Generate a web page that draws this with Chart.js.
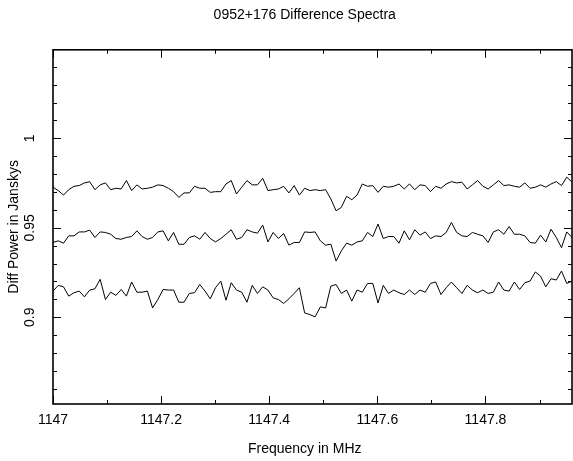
<!DOCTYPE html>
<html>
<head>
<meta charset="utf-8">
<script src="https://cdn.jsdelivr.net/npm/chart.js@4.4.1/dist/chart.umd.min.js"></script>
<style>
  html, body { margin: 0; padding: 0; background: #fff; }
  #wrap { width: 573px; height: 461px; }
</style>
</head>
<body>
<div id="wrap"><canvas id="specChart" width="573" height="461"></canvas></div>
<script>
// frequency axis (MHz)
const FREQ_START = 1147.0;
const FREQ_END = 1147.96;

// three difference spectra (Jy)
const upperSpec = [
    0.9727, 0.9708, 0.9683, 0.9713, 0.9732, 0.9736, 0.9751, 0.9758, 0.9713, 0.9740, 0.9751, 0.9713, 0.9721, 0.9717, 0.9764, 0.9708, 0.9740,
    0.9717, 0.9721, 0.9727, 0.9740, 0.9736, 0.9721, 0.9702, 0.9670, 0.9695, 0.9695, 0.9732, 0.9721, 0.9721, 0.9698, 0.9702, 0.9702,
    0.9745, 0.9764, 0.9689, 0.9727, 0.9764, 0.9740, 0.9740, 0.9777, 0.9708, 0.9713, 0.9717, 0.9732, 0.9695, 0.9736, 0.9683, 0.9721, 0.9708,
    0.9713, 0.9708, 0.9713, 0.9661, 0.9595, 0.9614, 0.9676, 0.9657, 0.9683, 0.9745, 0.9732, 0.9736, 0.9698, 0.9732, 0.9727, 0.9732,
    0.9745, 0.9717, 0.9745, 0.9713, 0.9740, 0.9736, 0.9702, 0.9732, 0.9721, 0.9745, 0.9758, 0.9751, 0.9755, 0.9717, 0.9740, 0.9764,
    0.9732, 0.9717, 0.9740, 0.9764, 0.9736, 0.9740, 0.9732, 0.9727, 0.9751, 0.9721, 0.9727, 0.9740, 0.9727, 0.9745, 0.9758, 0.9736, 0.9783, 0.9755
];
const middleSpec = [
    0.9418, 0.9427, 0.9414, 0.9455, 0.9455, 0.9477, 0.9477, 0.9487, 0.9446, 0.9477, 0.9474, 0.9464, 0.9440, 0.9436, 0.9446, 0.9451, 0.9483,
    0.9451, 0.9436, 0.9446, 0.9477, 0.9483, 0.9427, 0.9474, 0.9408, 0.9408, 0.9446, 0.9455, 0.9436, 0.9474, 0.9440, 0.9421, 0.9440,
    0.9464, 0.9489, 0.9436, 0.9446, 0.9489, 0.9477, 0.9470, 0.9515, 0.9421, 0.9474, 0.9440, 0.9468, 0.9403, 0.9418, 0.9418, 0.9477, 0.9474,
    0.9477, 0.9427, 0.9403, 0.9408, 0.9314, 0.9371, 0.9414, 0.9403, 0.9421, 0.9427, 0.9474, 0.9451, 0.9521, 0.9440, 0.9451, 0.9451,
    0.9414, 0.9483, 0.9433, 0.9489, 0.9459, 0.9477, 0.9440, 0.9455, 0.9451, 0.9474, 0.9530, 0.9474, 0.9455, 0.9451, 0.9474, 0.9464,
    0.9455, 0.9418, 0.9477, 0.9489, 0.9464, 0.9507, 0.9464, 0.9464, 0.9455, 0.9418, 0.9414, 0.9459, 0.9421, 0.9492, 0.9446, 0.9389, 0.9477, 0.9446
];
const lowerSpec = [
    0.9146, 0.9178, 0.9170, 0.9118, 0.9137, 0.9146, 0.9114, 0.9152, 0.9159, 0.9212, 0.9099, 0.9140, 0.9122, 0.9155, 0.9118, 0.9197, 0.9140,
    0.9140, 0.9146, 0.9052, 0.9099, 0.9155, 0.9152, 0.9152, 0.9084, 0.9084, 0.9133, 0.9137, 0.9183, 0.9146, 0.9103, 0.9165, 0.9202,
    0.9095, 0.9193, 0.9152, 0.9140, 0.9084, 0.9178, 0.9133, 0.9170, 0.9152, 0.9108, 0.9099, 0.9077, 0.9103, 0.9133, 0.9165, 0.9024, 0.9015,
    0.9002, 0.9058, 0.9052, 0.9174, 0.9183, 0.9133, 0.9152, 0.9090, 0.9152, 0.9140, 0.9189, 0.9189, 0.9080, 0.9178, 0.9133, 0.9152,
    0.9137, 0.9127, 0.9152, 0.9127, 0.9152, 0.9140, 0.9189, 0.9197, 0.9127, 0.9165, 0.9197, 0.9165, 0.9133, 0.9178, 0.9152, 0.9137,
    0.9152, 0.9133, 0.9140, 0.9197, 0.9152, 0.9146, 0.9197, 0.9155, 0.9193, 0.9202, 0.9253, 0.9230, 0.9170, 0.9215, 0.9208, 0.9258, 0.9189, 0.9202
];

// evenly spaced channels across the band
const freqStep = (FREQ_END - FREQ_START) / (upperSpec.length - 1);
const freqs = upperSpec.map((_, i) => FREQ_START + i * freqStep);
const toPoints = arr => arr.map((v, i) => ({ x: freqs[i], y: v }));

const FONT = "'Liberation Sans', Arial, sans-serif";

// PGPLOT style box: frame with inward ticks on all four sides
const boxTicks = {
    id: 'boxTicks',
    afterDatasetsDraw(chart) {
        const { ctx, chartArea: a, scales: { x, y } } = chart;
        ctx.save();
        ctx.strokeStyle = '#000';
        ctx.lineWidth = 1;
        ctx.beginPath();
        for (let k = 0; k <= 10; k++) {
            const v = 1147 + k * 0.1;
            if (v > x.max + 1e-9) break;
            const px = Math.round(x.getPixelForValue(v)) + 0.5;
            const len = k % 2 === 0 ? 8 : 4;
            ctx.moveTo(px, a.bottom); ctx.lineTo(px, a.bottom - len);
            ctx.moveTo(px, a.top); ctx.lineTo(px, a.top + len);
        }
        for (let k = 85; k <= 105; k++) {
            const v = k / 100;
            if (v < y.min || v > y.max) continue;
            const py = Math.round(y.getPixelForValue(v)) + 0.5;
            const len = k % 5 === 0 ? 8 : 4;
            ctx.moveTo(a.left, py); ctx.lineTo(a.left + len, py);
            ctx.moveTo(a.right, py); ctx.lineTo(a.right - len, py);
        }
        ctx.stroke();
        ctx.lineWidth = 1.6;
        ctx.strokeRect(a.left, a.top, a.right - a.left, a.bottom - a.top);
        ctx.restore();
    }
};

const lineStyle = { borderColor: '#000', borderWidth: 1, pointRadius: 0, tension: 0, fill: false };

new Chart(document.getElementById('specChart').getContext('2d'), {
    type: 'line',
    data: {
        datasets: [
            { label: 'upper', data: toPoints(upperSpec), ...lineStyle },
            { label: 'middle', data: toPoints(middleSpec), ...lineStyle },
            { label: 'lower', data: toPoints(lowerSpec), ...lineStyle }
        ]
    },
    options: {
        responsive: false,
        animation: false,
        layout: { padding: { left: 0, right: 1, top: 0, bottom: 0 } },
        plugins: {
            legend: { display: false },
            tooltip: { enabled: false },
            title: {
                display: true,
                fullSize: false,
                text: '0952+176 Difference Spectra    ',
                color: '#000',
                font: { family: FONT, size: 14, weight: 'normal' },
                padding: { top: 7, bottom: 26 }
            }
        },
        scales: {
            x: {
                type: 'linear',
                min: FREQ_START,
                max: FREQ_END,
                grid: { display: false, drawTicks: false },
                border: { display: false },
                ticks: {
                    stepSize: 0.2,
                    includeBounds: false,
                    padding: 8,
                    maxRotation: 0,
                    color: '#000',
                    font: { family: FONT, size: 14 },
                    callback: v => String(+v.toFixed(1))
                },
                title: {
                    display: true,
                    text: 'Frequency in MHz    ',
                    color: '#000',
                    font: { family: FONT, size: 14 },
                    padding: { top: 0, bottom: 3 }
                },
                afterFit: s => { s.height = 57; }
            },
            y: {
                min: 0.8515,
                max: 1.0495,
                grid: { display: false, drawTicks: false },
                border: { display: false },
                ticks: {
                    stepSize: 0.05,
                    includeBounds: false,
                    minRotation: 90,
                    maxRotation: 90,
                    crossAlign: 'center',
                    padding: 9,
                    color: '#000',
                    font: { family: FONT, size: 14 },
                    callback: v => String(+v.toFixed(2))
                },
                title: {
                    display: true,
                    text: 'Diff Power in Janskys',
                    color: '#000',
                    font: { family: FONT, size: 14 },
                    padding: { top: 6, bottom: 0 }
                },
                afterFit: s => { s.width = 53; }
            }
        }
    },
    plugins: [boxTicks]
});
</script>
</body>
</html>
